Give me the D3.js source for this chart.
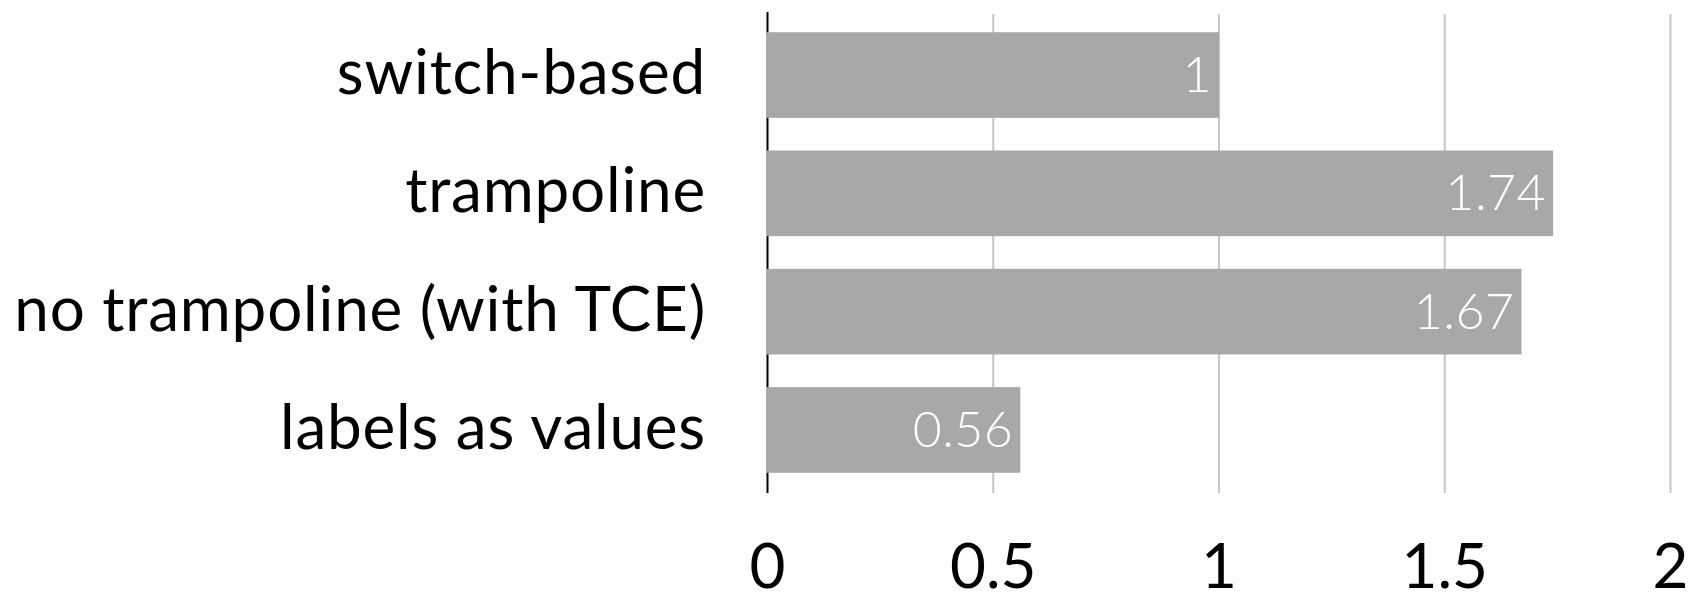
<!DOCTYPE html>
<html>
<head>
<meta charset="utf-8">
<script src="https://cdn.jsdelivr.net/npm/d3@7"></script>
<style>
  html, body { margin: 0; padding: 0; background: #fff; }
  svg { display: block; }
</style>
</head>
<body>
<svg id="chart" width="1697" height="594"></svg>
<script>
const categories = ["switch-based", "trampoline", "no trampoline (with TCE)", "labels as values"];
const values = [1, 1.74, 1.67, 0.56];
const valueLabels = ["1", "1.74", "1.67", "0.56"];
const tickValues = [0, 0.5, 1, 1.5, 2];
const tickLabels = ["0", "0.5", "1", "1.5", "2"];

const svg = d3.select("#chart");
const font = "Lato, 'Open Sans', sans-serif";

const x = d3.scaleLinear().domain([0, 2]).range([767.5, 1670.5]);
const y = d3.scaleBand().domain(categories).range([12, 493])
  .paddingInner(0.276).paddingOuter(0.171);

// gridlines
svg.append("g").selectAll("line").data(tickValues.slice(1)).join("line")
  .attr("x1", d => x(d)).attr("x2", d => x(d))
  .attr("y1", 14).attr("y2", 493)
  .attr("stroke", "#c6c6c6").attr("stroke-width", 2);

// axis line at zero
svg.append("line")
  .attr("x1", x(0)).attr("x2", x(0))
  .attr("y1", 12).attr("y2", 493)
  .attr("stroke", "#000").attr("stroke-width", 2);

// bars
svg.append("g").selectAll("rect").data(categories).join("rect")
  .attr("x", x(0) - 1.5)
  .attr("y", d => y(d))
  .attr("width", (d, i) => x(values[i]) - x(0) + 1.5)
  .attr("height", y.bandwidth())
  .attr("fill", "#a6a9a8");

// value labels
svg.append("g").selectAll("text").data(categories).join("text")
  .attr("x", (d, i) => x(values[i]) - 7)
  .attr("y", d => y(d) + y.bandwidth() / 2 + 17)
  .attr("text-anchor", "end")
  .attr("font-family", font)
  .attr("font-weight", 300)
  .attr("font-size", 50)
  .attr("letter-spacing", 0.5)
  .attr("fill", "#fff")
  .text((d, i) => valueLabels[i]);

// category labels
svg.append("g").selectAll("text").data(categories).join("text")
  .attr("x", 706)
  .attr("y", d => y(d) + y.bandwidth() / 2 + 19)
  .attr("text-anchor", "end")
  .attr("font-family", font)
  .attr("font-size", 62)
  .attr("letter-spacing", 0.8)
  .attr("fill", "#000")
  .text(d => d);

// x tick labels
svg.append("g").selectAll("text").data(tickValues).join("text")
  .attr("x", d => x(d))
  .attr("y", 588)
  .attr("text-anchor", "middle")
  .attr("font-family", font)
  .attr("font-size", 62)
  .attr("fill", "#000")
  .text((d, i) => tickLabels[i]);
</script>
</body>
</html>
